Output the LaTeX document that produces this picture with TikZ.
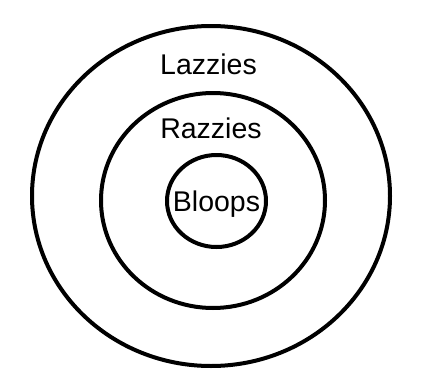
\documentclass[tikz,border=0pt]{standalone}
\usepackage{fontspec}
\setmainfont{Liberation Sans}

\begin{document}
\begin{tikzpicture}[x=1pt, y=-1pt,
		line cap=round, line join=round,
		ring/.style={line width=4pt},
		lbl/.style={font=\fontsize{28.5}{34}\selectfont, anchor=base, inner sep=0pt}]

	% ---- area del disegno ----
	\useasboundingbox (0,0) rectangle (434,386);

	% ---- anelli ----
	\draw[ring] (211,196) ellipse (179 and 170);
	\draw[ring] (213,200.5) ellipse (112 and 107.5);
	\draw[ring] (216.5,201) ellipse (49.5 and 46);

	% ---- etichette ----
	\node[lbl] (lazzies) at (208.5,74)  {Lazzies};
	\node[lbl] (razzies) at (211,138)   {Razzies};
	\node[lbl] (bloops)  at (216.5,211) {Bloops};

\end{tikzpicture}
\end{document}
